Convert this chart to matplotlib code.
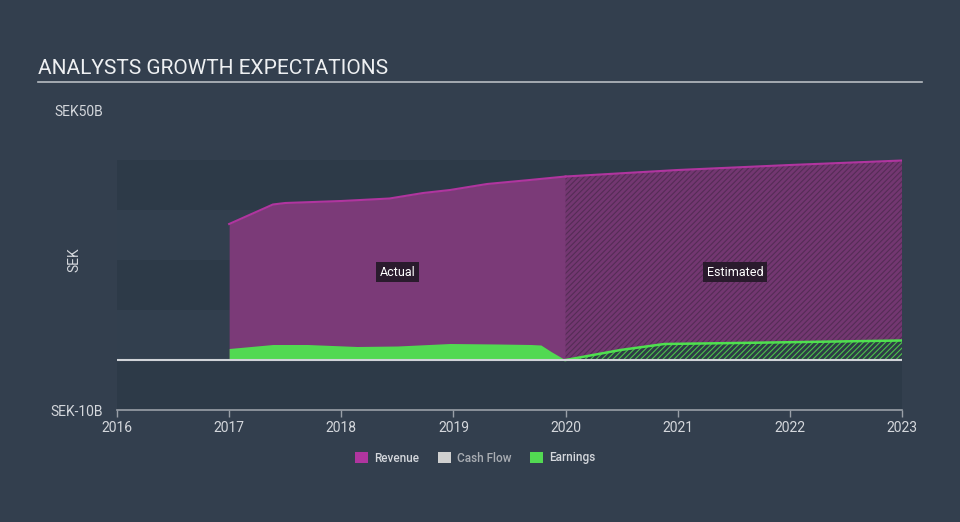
import matplotlib
matplotlib.use("Agg")
import matplotlib.pyplot as plt
from matplotlib.patches import Patch
from matplotlib.lines import Line2D

# ---------------------------------------------------------------------------
# Data (SEK billions)
# ---------------------------------------------------------------------------
rev_act_x = [2017.0, 2017.39, 2017.5, 2018.0, 2018.43, 2018.73, 2018.97, 2019.3, 2019.68, 2020.0]
rev_act_y = [27.2, 31.1, 31.4, 31.8, 32.3, 33.4, 34.0, 35.2, 36.0, 36.7]

rev_est_x = [2020.0, 2021.0, 2022.0, 2023.0]
rev_est_y = [36.7, 38.0, 39.0, 39.9]

earn_act_x = [2017.0, 2017.39, 2017.7, 2018.14, 2018.5, 2018.97, 2019.4, 2019.69, 2019.78, 2019.87, 2020.0]
earn_act_y = [2.3, 3.1, 3.1, 2.7, 2.8, 3.3, 3.2, 3.1, 3.0, 1.7, 0.0]

earn_est_x = [2020.0, 2020.49, 2020.88, 2021.68, 2023.0]
earn_est_y = [0.0, 2.0, 3.2, 3.45, 3.9]

year_ticks = [2016, 2017, 2018, 2019, 2020, 2021, 2022, 2023]
legend_labels = ["Revenue", "Cash Flow", "Earnings"]

# ---------------------------------------------------------------------------
# Style
# ---------------------------------------------------------------------------
BG = "#333f4e"
BAND_DARK = "#2d3a48"
BAND_LIGHT = "#323f4e"
TEXT = "#d4d7dc"
REV_FILL = "#7b3a78"
REV_LINE = "#b0359f"
EARN_FILL = "#52d952"
EARN_LINE = "#4fe04f"

plt.rcParams["font.family"] = ["Roboto", "DejaVu Sans"]
plt.rcParams["hatch.linewidth"] = 0.8

fig = plt.figure(figsize=(9.6, 5.22), dpi=100)
fig.patch.set_facecolor(BG)
ax = fig.add_axes([117 / 960, 1 - 410 / 522, (902 - 117) / 960, 300 / 522])
ax.set_facecolor(BG)

ax.set_xlim(2016, 2023)
ax.set_ylim(-10, 50)

# alternating horizontal bands from -10 to 40
for i, lo in enumerate(range(-10, 40, 10)):
    ax.axhspan(lo, lo + 10, color=BAND_DARK if i % 2 == 0 else BAND_LIGHT,
               lw=0, zorder=0)

# actual period
ax.fill_between(rev_act_x, 0, rev_act_y, color=REV_FILL, lw=0, zorder=2)
ax.plot(rev_act_x, rev_act_y, color=REV_LINE, lw=1.5, zorder=3)
ax.fill_between(earn_act_x, 0, earn_act_y, color=EARN_FILL, lw=0, zorder=4)

# estimated period (hatched)
ax.fill_between(rev_est_x, 0, rev_est_y, facecolor="#733771",
                edgecolor="#552c56", hatch="//////", lw=0, zorder=2)
ax.plot(rev_est_x, rev_est_y, color=REV_LINE, lw=1.5, zorder=3)
ax.fill_between(earn_est_x, 0, earn_est_y, facecolor="#2e3c46",
                edgecolor="#4cc04c", hatch="//////", lw=0, zorder=4)
ax.plot(earn_est_x, earn_est_y, color=EARN_LINE, lw=1.8, zorder=5)

# zero line
ax.axhline(0, color="#d0d3d8", lw=1.5, zorder=6)

# period labels
box = dict(boxstyle="square,pad=0.3", fc="#2a1b2d", ec="none")
ax.text(2018.5, 17.6, "Actual", color="white", fontsize=9,
        ha="center", va="center", bbox=box, zorder=7)
ax.text(2021.51, 17.6, "Estimated", color="white", fontsize=9,
        ha="center", va="center", bbox=box, zorder=7)

# axes
for s in ["top", "right", "left"]:
    ax.spines[s].set_visible(False)
ax.spines["bottom"].set_color("#9aa0a8")
ax.spines["bottom"].set_linewidth(1.2)
ax.set_xticks(year_ticks)
ax.set_xticklabels([str(y) for y in year_ticks])
ax.tick_params(axis="x", colors="#9aa0a8", labelcolor=TEXT, labelsize=10,
               length=5, width=1, pad=3)
ax.set_yticks([-10, 50])
ax.set_yticklabels(["SEK-10B", "SEK50B"])
ax.tick_params(axis="y", length=0, labelcolor=TEXT, labelsize=10, pad=10)
ax.set_ylabel("SEK", color=TEXT, fontsize=10, labelpad=2)
ax.yaxis.set_label_coords(-0.045, 0.5)

# title + rule
fig.text(38 / 960, 1 - 68 / 522, "ANALYSTS GROWTH EXPECTATIONS", color="#eef0f2",
         fontsize=15, ha="left", va="center")
fig.add_artist(Line2D([38 / 960, 922 / 960], [1 - 82 / 522, 1 - 82 / 522],
                      color="#b8bcc2", lw=1.2))

# legend
handles = [Patch(facecolor=REV_LINE, edgecolor="none"),
           Patch(facecolor="#d0d0d0", edgecolor="none"),
           Patch(facecolor=EARN_FILL, edgecolor="none")]
leg = fig.legend(handles, legend_labels, loc="center", ncol=3,
                 bbox_to_anchor=(475 / 960, 1 - 458 / 522), frameon=False,
                 prop={"size": 8.5, "weight": "medium"},
                 handlelength=1.1, handleheight=1.1,
                 handletextpad=0.5, columnspacing=1.6)
for t, c in zip(leg.get_texts(), [TEXT, "#a9adb3", TEXT]):
    t.set_color(c)

fig.savefig("out.png", dpi=100, facecolor=BG)
